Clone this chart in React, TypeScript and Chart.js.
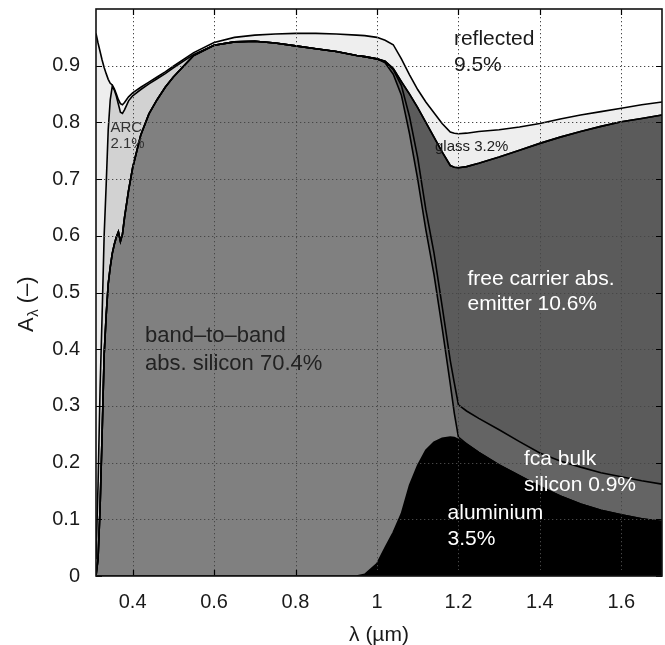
import React, { useEffect, useRef } from 'react';
import { Chart, registerables } from 'chart.js';

Chart.register(...registerables);

// wavelength grid (µm)
const wavelength = [
  0.31, 0.315, 0.32, 0.325, 0.33, 0.335, 0.34, 0.345, 0.35, 0.355,
  0.36, 0.365, 0.37, 0.375, 0.38, 0.39, 0.40, 0.42, 0.44, 0.46,
  0.48, 0.50, 0.55, 0.60, 0.65, 0.70, 0.75, 0.80, 0.85, 0.90,
  0.95, 0.97, 1.00, 1.02, 1.04, 1.06, 1.08, 1.10, 1.12, 1.14,
  1.16, 1.18, 1.19, 1.20, 1.22, 1.25, 1.30, 1.35, 1.40, 1.45,
  1.50, 1.55, 1.60, 1.65, 1.70,
];

// cumulative absorptance: upper edge of each stacked contribution
const aluminiumTop = [
  0, 0, 0, 0, 0, 0, 0, 0, 0, 0,
  0, 0, 0, 0, 0, 0, 0, 0, 0, 0,
  0, 0, 0, 0, 0, 0, 0, 0, 0, 0,
  0, 0.003, 0.022, 0.05, 0.077, 0.11, 0.16, 0.195, 0.222, 0.236,
  0.243, 0.245, 0.244, 0.241, 0.233, 0.218, 0.196, 0.177, 0.158, 0.141,
  0.127, 0.116, 0.108, 0.101, 0.096,
];

const bandToBandTop = [
  0, 0.03, 0.12, 0.25, 0.39, 0.46, 0.515, 0.545, 0.569, 0.585,
  0.598, 0.607, 0.59, 0.603, 0.632, 0.68, 0.72, 0.778, 0.815, 0.84,
  0.862, 0.88, 0.918, 0.936, 0.942, 0.943, 0.94, 0.935, 0.93, 0.925,
  0.918, 0.916, 0.912, 0.905, 0.885, 0.848, 0.78, 0.70, 0.611, 0.532,
  0.438, 0.339, 0.287, 0.245, 0.233, 0.218, 0.196, 0.177, 0.158, 0.141,
  0.127, 0.116, 0.108, 0.101, 0.096,
];

const fcaBulkTop = [
  0, 0.03, 0.12, 0.25, 0.39, 0.46, 0.515, 0.545, 0.569, 0.585,
  0.598, 0.607, 0.59, 0.603, 0.632, 0.68, 0.72, 0.778, 0.815, 0.84,
  0.862, 0.88, 0.918, 0.936, 0.942, 0.943, 0.94, 0.935, 0.93, 0.925,
  0.918, 0.916, 0.912, 0.907, 0.893, 0.865, 0.81, 0.738, 0.646, 0.57,
  0.476, 0.38, 0.34, 0.302, 0.291, 0.278, 0.258, 0.237, 0.217, 0.203,
  0.192, 0.182, 0.175, 0.168, 0.162,
];

const emitterTop = [
  0, 0.03, 0.12, 0.25, 0.39, 0.46, 0.515, 0.545, 0.569, 0.585,
  0.598, 0.607, 0.59, 0.603, 0.632, 0.68, 0.72, 0.778, 0.815, 0.84,
  0.862, 0.88, 0.918, 0.936, 0.942, 0.943, 0.94, 0.935, 0.93, 0.925,
  0.918, 0.916, 0.912, 0.908, 0.895, 0.872, 0.85, 0.826, 0.80, 0.774,
  0.748, 0.724, 0.721, 0.72, 0.722, 0.728, 0.739, 0.751, 0.763, 0.774,
  0.784, 0.793, 0.801, 0.807, 0.813,
];

const arcTop = [
  0.03, 0.16, 0.33, 0.46, 0.6, 0.69, 0.787, 0.84, 0.864, 0.857,
  0.846, 0.832, 0.818, 0.816, 0.822, 0.838, 0.847, 0.858, 0.868, 0.877,
  0.886, 0.896, 0.92, 0.936, 0.942, 0.943, 0.94, 0.935, 0.93, 0.925,
  0.918, 0.916, 0.912, 0.908, 0.895, 0.872, 0.85, 0.826, 0.80, 0.774,
  0.748, 0.724, 0.721, 0.72, 0.722, 0.728, 0.739, 0.751, 0.763, 0.774,
  0.784, 0.793, 0.801, 0.807, 0.813,
];

const glassTop = [
  0.957, 0.94, 0.925, 0.91, 0.897, 0.886, 0.876, 0.869, 0.866, 0.859,
  0.85, 0.84, 0.833, 0.831, 0.835, 0.845, 0.852, 0.862, 0.871, 0.88,
  0.889, 0.899, 0.923, 0.941, 0.95, 0.954, 0.956, 0.957, 0.957, 0.956,
  0.954, 0.953, 0.95, 0.945, 0.937, 0.912, 0.884, 0.858, 0.836, 0.817,
  0.798, 0.783, 0.781, 0.78, 0.781, 0.784, 0.787, 0.792, 0.798, 0.806,
  0.813, 0.819, 0.825, 0.831, 0.836,
];

const layerNames = ['aluminium', 'band-to-band', 'fca bulk', 'fca emitter', 'ARC', 'glass'];
const layerEdges = [aluminiumTop, bandToBandTop, fcaBulkTop, emitterTop, arcTop, glassTop];
const layerColors = ['#000000', '#808080', '#646464', '#5b5b5b', '#d2d2d2', '#eeeeee'];

const xTicks = [0.4, 0.6, 0.8, 1, 1.2, 1.4, 1.6];
const yTicks = [0, 0.1, 0.2, 0.3, 0.4, 0.5, 0.6, 0.7, 0.8, 0.9];

const FONT = "'Liberation Sans', Arial, Helvetica, sans-serif";

type Note = { lines: string[]; x: number; y: number; size: number; color: string; lh: number };
const notes: Note[] = [
  { lines: ['reflected', '9.5%'], x: 1.189, y: 0.9365, size: 21, color: '#1a1a1a', lh: 26 },
  { lines: ['ARC', '2.1%'], x: 0.3456, y: 0.783, size: 15, color: '#333333', lh: 16 },
  { lines: ['glass 3.2%'], x: 1.1425, y: 0.7487, size: 15, color: '#1a1a1a', lh: 16 },
  { lines: ['free carrier abs.', 'emitter 10.6%'], x: 1.2223, y: 0.5132, size: 21, color: '#ffffff', lh: 25 },
  { lines: ['band\u2013to\u2013band', 'abs. silicon 70.4%'], x: 0.4303, y: 0.4132, size: 22, color: '#222222', lh: 28 },
  { lines: ['fca bulk', 'silicon 0.9%'], x: 1.361, y: 0.1958, size: 21, color: '#ffffff', lh: 26 },
  { lines: ['aluminium', '3.5%'], x: 1.1733, y: 0.1005, size: 21, color: '#ffffff', lh: 25.5 },
];

const decorPlugin = {
  id: 'decor',
  afterDraw(chart: any) {
    const { ctx, chartArea: a, scales } = chart;
    const xs = scales.x;
    const ys = scales.y;
    ctx.save();
    // dotted grid on top of the areas
    ctx.strokeStyle = '#474747';
    ctx.lineWidth = 1;
    ctx.setLineDash([1.3, 2.7]);
    for (const t of xTicks) {
      const px = Math.round(xs.getPixelForValue(t)) + 0.5;
      ctx.beginPath();
      ctx.moveTo(px, a.top);
      ctx.lineTo(px, a.bottom);
      ctx.stroke();
    }
    for (const t of yTicks) {
      if (t === 0) continue;
      const py = Math.round(ys.getPixelForValue(t)) + 0.5;
      ctx.beginPath();
      ctx.moveTo(a.left, py);
      ctx.lineTo(a.right, py);
      ctx.stroke();
    }
    ctx.setLineDash([]);
    // inward tick marks
    ctx.strokeStyle = '#000';
    ctx.lineWidth = 1.2;
    const tl = 6;
    for (const t of xTicks) {
      const px = Math.round(xs.getPixelForValue(t)) + 0.5;
      ctx.beginPath();
      ctx.moveTo(px, a.bottom);
      ctx.lineTo(px, a.bottom - tl);
      ctx.moveTo(px, a.top);
      ctx.lineTo(px, a.top + tl);
      ctx.stroke();
    }
    for (const t of yTicks) {
      const py = Math.round(ys.getPixelForValue(t)) + 0.5;
      ctx.beginPath();
      ctx.moveTo(a.left, py);
      ctx.lineTo(a.left + tl, py);
      ctx.moveTo(a.right, py);
      ctx.lineTo(a.right - tl, py);
      ctx.stroke();
    }
    // frame
    ctx.lineWidth = 1.6;
    ctx.strokeStyle = '#111';
    ctx.strokeRect(a.left, a.top, a.right - a.left, a.bottom - a.top);

    // annotations
    ctx.textAlign = 'left';
    ctx.textBaseline = 'alphabetic';
    for (const n of notes) {
      const px = xs.getPixelForValue(n.x);
      const py = ys.getPixelForValue(n.y);
      ctx.font = `${n.size}px ${FONT}`;
      ctx.fillStyle = n.color;
      n.lines.forEach((s, i) => ctx.fillText(s, px, py + i * n.lh));
    }

    // x axis title
    ctx.fillStyle = '#1a1a1a';
    ctx.font = `21px ${FONT}`;
    ctx.textAlign = 'center';
    ctx.fillText('\u03bb (\u00b5m)', (a.left + a.right) / 2, 641);

    // y axis title with subscript
    ctx.save();
    ctx.translate(33, 332);
    ctx.rotate(-Math.PI / 2);
    ctx.textAlign = 'left';
    ctx.font = `22px ${FONT}`;
    ctx.fillText('A', 0, 0);
    let w = ctx.measureText('A').width;
    ctx.font = `15px ${FONT}`;
    ctx.fillText('\u03bb', w + 0.5, 5);
    w += ctx.measureText('\u03bb').width + 0.5;
    ctx.font = `22px ${FONT}`;
    ctx.fillText(' (\u2013)', w, 0);
    ctx.restore();

    ctx.restore();
  },
};

export default function App() {
  const ref = useRef<HTMLCanvasElement | null>(null);
  useEffect(() => {
    if (!ref.current) return;
    const datasets = layerEdges.map((edge, i) => ({
      label: layerNames[i],
      data: wavelength.map((x, k) => ({ x, y: edge[k] })),
      borderColor: '#000000',
      borderWidth: 1.6,
      backgroundColor: layerColors[i],
      fill: i === 0 ? 'origin' : '-1',
      pointRadius: 0,
      tension: 0,
    }));
    const chart = new Chart(ref.current, {
      type: 'line',
      data: { datasets },
      plugins: [decorPlugin],
      options: {
        animation: false,
        responsive: false,
        events: [],
        layout: { padding: { top: 9, right: 3, left: 0, bottom: 0 } },
        plugins: {
          legend: { display: false },
          tooltip: { enabled: false },
          filler: { drawTime: 'beforeDatasetsDraw' },
        },
        scales: {
          x: {
            type: 'linear',
            min: 0.31,
            max: 1.7,
            afterBuildTicks: (s: any) => {
              s.ticks = xTicks.map((v) => ({ value: v }));
            },
            afterFit: (s: any) => {
              s.height = 69;
              s.paddingLeft = 0;
              s.paddingRight = 0;
            },
            grid: { display: false, drawTicks: false },
            border: { display: false },
            ticks: {
              autoSkip: false,
              maxRotation: 0,
              padding: 14,
              color: '#1a1a1a',
              font: { family: FONT, size: 20 },
              callback: (v: any) => String(Number(Number(v).toFixed(1))),
            },
          },
          y: {
            type: 'linear',
            min: 0,
            max: 1,
            afterBuildTicks: (s: any) => {
              s.ticks = yTicks.map((v) => ({ value: v }));
            },
            afterFit: (s: any) => {
              s.width = 96;
              s.paddingTop = 0;
              s.paddingBottom = 0;
            },
            grid: { display: false, drawTicks: false },
            border: { display: false },
            ticks: {
              padding: 16,
              color: '#1a1a1a',
              font: { family: FONT, size: 20 },
              callback: (v: any) => String(Number(Number(v).toFixed(1))),
            },
          },
        },
      },
    });
    return () => chart.destroy();
  }, []);
  return (
    <div style={{ position: 'fixed', left: 0, top: 0, width: 665, height: 645, background: '#fff' }}>
      <canvas ref={ref} width={665} height={645} />
    </div>
  );
}
